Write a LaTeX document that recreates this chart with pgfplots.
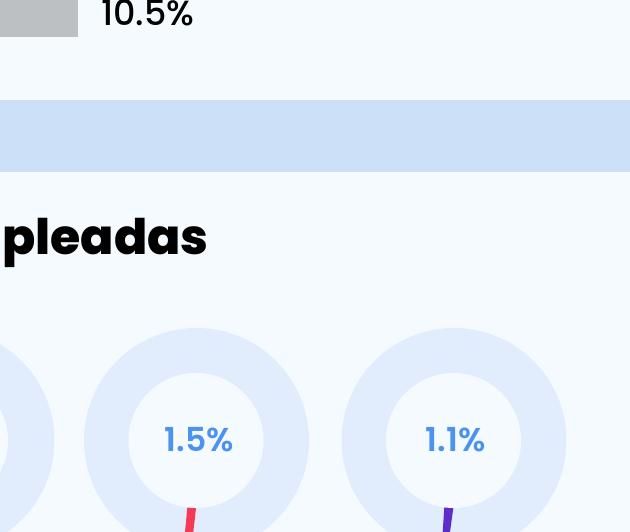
\documentclass[border=0pt]{standalone}
\usepackage{pgfplots}
\pgfplotsset{compat=1.18}
\usepackage{fontspec}
\setmainfont{Poppins}
\newfontfamily\popb{Poppins ExtraBold}
\newfontfamily\popm{Poppins Medium}
\newfontfamily\pops{Poppins SemiBold}
\definecolor{bgcol}{HTML}{F5FAFF}
\definecolor{ringcol}{HTML}{E1EDFC}
\definecolor{bandcol}{HTML}{CCE0F8}
\definecolor{graycol}{HTML}{BDC0C3}
\definecolor{redcol}{HTML}{F43A55}
\definecolor{purcol}{HTML}{5C2DC8}
\definecolor{bluetxt}{HTML}{4C93EE}
\begin{document}
\begin{tikzpicture}
\fill[bgcol] (0,0) rectangle (630pt,532pt);
\begin{axis}[at={(0,0)}, anchor=south west, scale only axis,
  width=630pt, height=532pt, xmin=0, xmax=630, ymin=0, ymax=532,
  y dir=reverse, hide axis, clip=true]
% gray bar (10.5%)
\addplot[fill=graycol, draw=none] coordinates {(0,0) (78,0) (78,37.5) (0,37.5)} -- cycle;
% band
\addplot[fill=bandcol, draw=none] coordinates {(0,100) (630,100) (630,172.5) (0,172.5)} -- cycle;
% donut rings
\fill[ringcol] (axis cs:-58,440.5) circle[radius=112.5];
\fill[ringcol] (axis cs:196.5,440.5) circle[radius=112.5];
\fill[ringcol] (axis cs:454,440.5) circle[radius=112.5];
% value wedges
\addplot[fill=redcol, draw=none] coordinates {(188.1,500) (196.9,500) (190.2,560) (182.3,560)} -- cycle;
\addplot[fill=purcol, draw=none] coordinates {(444.8,500) (454.4,500) (446.2,560) (440.8,560)} -- cycle;
% holes
\fill[bgcol] (axis cs:-58,440.5) circle[radius=66];
\fill[bgcol] (axis cs:196,440.5) circle[radius=67.5];
\fill[bgcol] (axis cs:453.5,440.5) circle[radius=67.5];
\end{axis}
\node[anchor=base west, inner sep=0pt, font=\popm\fontsize{35}{35}\selectfont] at (101pt,532pt-25.5pt) {10.5\%};
\node[anchor=base west, inner sep=0pt, font=\popb\fontsize{49}{49}\selectfont] at (2pt,532pt-255pt) {pleadas};
\node[anchor=base, inner sep=0pt, text=bluetxt, font=\pops\fontsize{33}{33}\selectfont] at (199.5pt,532pt-451.7pt) {1.5\%};
\node[anchor=base, inner sep=0pt, text=bluetxt, font=\pops\fontsize{33}{33}\selectfont] at (455.5pt,532pt-451.7pt) {1.1\%};
\pgfresetboundingbox
\useasboundingbox (0,0) rectangle (630pt,532pt);
\end{tikzpicture}
\end{document}
